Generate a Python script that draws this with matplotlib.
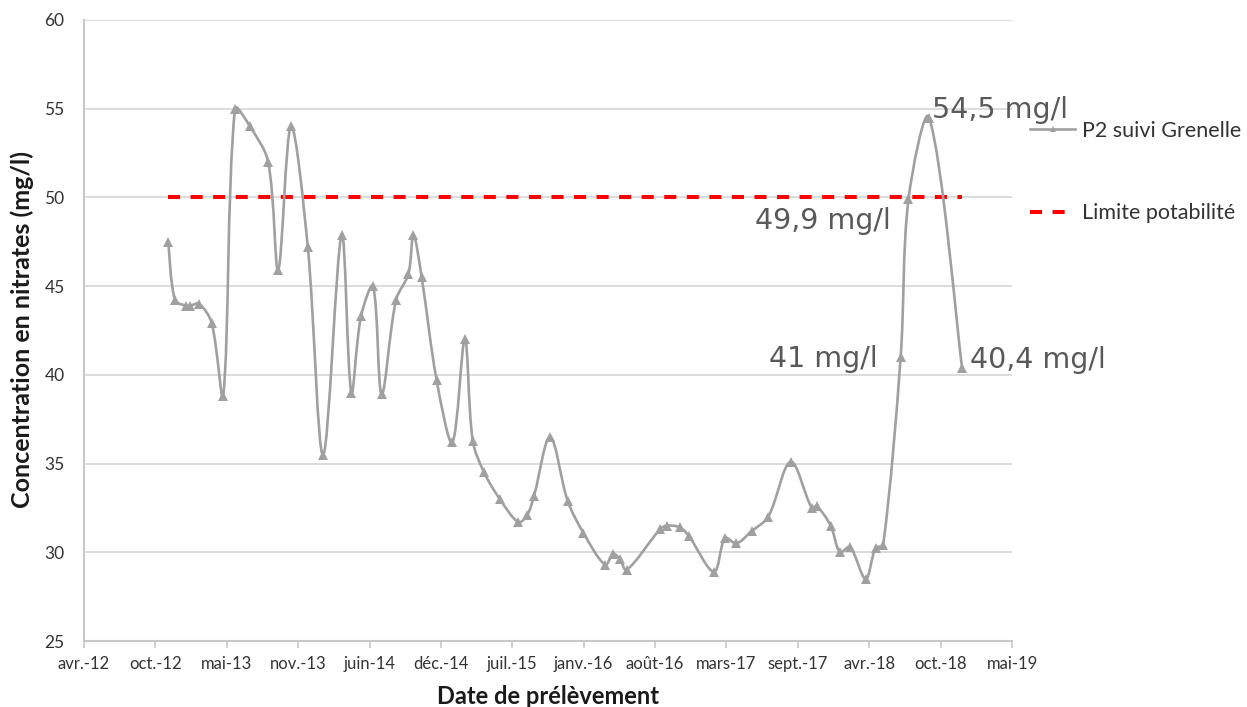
import numpy as np
import pandas as pd
import matplotlib
matplotlib.use("Agg")
import matplotlib.pyplot as plt
import matplotlib.dates as mdates
from matplotlib.path import Path
from matplotlib.patches import PathPatch
from matplotlib.lines import Line2D

# ---------------- data ----------------
dates = [
    "2012-11-23", "2012-12-12", "2013-01-12", "2013-01-23", "2013-02-18", "2013-03-25",
    "2013-04-26", "2013-05-29", "2013-07-10", "2013-08-30", "2013-09-27", "2013-11-02",
    "2013-12-19", "2014-01-31", "2014-03-24", "2014-04-20", "2014-05-17", "2014-06-20",
    "2014-07-14", "2014-08-23", "2014-09-27", "2014-10-11", "2014-11-03", "2014-12-15",
    "2015-01-28", "2015-03-04", "2015-03-26", "2015-04-27", "2015-06-10", "2015-08-01",
    "2015-08-26", "2015-09-14", "2015-10-29", "2015-12-17", "2016-01-30", "2016-03-31",
    "2016-04-23", "2016-05-12", "2016-05-30", "2016-09-01", "2016-09-20", "2016-10-27",
    "2016-11-21", "2017-01-30", "2017-03-02", "2017-04-03", "2017-05-16", "2017-07-01",
    "2017-09-02", "2017-10-31", "2017-11-14", "2017-12-23", "2018-01-18", "2018-02-15",
    "2018-03-31", "2018-04-28", "2018-05-19", "2018-07-07", "2018-07-29", "2018-09-25",
    "2018-12-26",
]
nitrates = [
    47.5, 44.2, 43.9, 43.9, 44.0, 42.9,
    38.8, 55.0, 54.0, 52.0, 45.9, 54.0,
    47.2, 35.5, 47.9, 39.0, 43.3, 45.0,
    38.9, 44.2, 45.7, 47.9, 45.5, 39.7,
    36.2, 42.0, 36.3, 34.5, 33.0, 31.7,
    32.1, 33.2, 36.5, 32.9, 31.1, 29.3,
    29.9, 29.6, 29.0, 31.3, 31.5, 31.4,
    30.9, 28.9, 30.8, 30.5, 31.2, 32.0,
    35.1, 32.5, 32.6, 31.5, 30.0, 30.3,
    28.5, 30.25, 30.4, 41.0, 49.9, 54.5,
    40.4,
]
limit_value = 50
series_name = "P2 suivi Grenelle"
limit_name = "Limite potabilité"

annot_index = [59, 58, 57, 60]
annot_text = ["54,5 mg/l", "49,9 mg/l", "41 mg/l", "40,4 mg/l"]

tick_start = "2012-04-01"
tick_step_days = 200
tick_labels = ["avr.-12", "oct.-12", "mai-13", "nov.-13", "juin-14", "déc.-14",
               "juil.-15", "janv.-16", "août-16", "mars-17", "sept.-17", "avr.-18",
               "oct.-18", "mai-19"]
y_ticks = [25, 30, 35, 40, 45, 50, 55, 60]

# ---------------- figure ----------------
W, H = 1247, 707
fig = plt.figure(figsize=(W / 100, H / 100), dpi=100)
ax = fig.add_axes([84 / W, 1 - 641 / H, 928 / W, 621 / H])

xs = mdates.date2num(pd.to_datetime(dates).to_pydatetime())
ys = np.array(nitrates, dtype=float)

tick_dates = pd.Timestamp(tick_start) + pd.to_timedelta(np.arange(len(tick_labels)) * tick_step_days, unit="D")
tick_nums = mdates.date2num(tick_dates.to_pydatetime())
ax.set_xlim(tick_nums[0], tick_nums[-1])
ax.set_ylim(25, 60)

# Excel-like smoothed line: cubic Bezier, tangents weighted by screen-space chord lengths
P = np.column_stack([xs, ys])
Pd = ax.transData.transform(P)
n = len(P)
d = np.hypot(*(np.diff(Pd, axis=0).T))
T = np.zeros_like(P)
T[0] = P[1] - P[0]
T[-1] = P[-1] - P[-2]
T[1:-1] = P[2:] - P[:-2]
verts = [P[0]]
codes = [Path.MOVETO]
for i in range(n - 1):
    dprev = d[i - 1] if i > 0 else d[i]
    dnext = d[i + 1] if i + 1 < n - 1 else d[i]
    c1 = P[i] + T[i] * d[i] / (dprev + d[i]) / 3.0
    c2 = P[i + 1] - T[i + 1] * d[i] / (d[i] + dnext) / 3.0
    verts += [c1, c2, P[i + 1]]
    codes += [Path.CURVE4] * 3
series_color = "#A0A0A0"
patch = PathPatch(Path(verts, codes), facecolor="none", edgecolor=series_color,
                  lw=1.9, zorder=4, capstyle="round", joinstyle="round")
ax.add_patch(patch)
ax.plot(xs, ys, linestyle="none", marker="^", markersize=6.5, color=series_color,
        markeredgewidth=0, zorder=5)

# limit line
ax.hlines(limit_value, xs[0], xs[-1], colors="#FF0000", linestyles=(0, (3, 2.6)),
          lw=2.9, zorder=3)

# annotations
offsets = {"54,5 mg/l": (3, 0, "left"), "49,9 mg/l": (-18, -30, "right"),
           "41 mg/l": (-23, -10, "right"), "40,4 mg/l": (8, 0, "left")}
for idx, txt in zip(annot_index, annot_text):
    dx, dy, ha = offsets[txt]
    ax.annotate(txt, (xs[idx], ys[idx]), xytext=(dx, dy), textcoords="offset pixels",
                ha=ha, va="baseline", fontsize=20.5, color="#595959",
                family="DejaVu Sans", zorder=6)

# axes formatting
ax.set_xticks(tick_nums)
ax.set_xticklabels(tick_labels, family="Lato", fontsize=12, color="#333333")
ax.set_yticks(y_ticks)
ax.set_yticklabels([str(v) for v in y_ticks], family="Lato", fontsize=12.5, color="#333333")

ax.grid(axis="y", color="#D9D9D9", lw=1.3, zorder=0)
ax.set_axisbelow(True)
for s in ["top", "right"]:
    ax.spines[s].set_visible(False)
for s in ["left", "bottom"]:
    ax.spines[s].set_color("#C8C8C8")
    ax.spines[s].set_linewidth(1.5)
ax.tick_params(axis="x", length=5, width=1.2, color="#C8C8C8", pad=6)
ax.tick_params(axis="y", length=0, pad=14)

fig.text(548 / W, 1 - 697 / H, "Date de prélèvement", ha="center", va="center",
         family="Lato", fontweight="bold", fontsize=17, color="#1a1a1a")
fig.text(22 / W, 1 - 329 / H, "Concentration en nitrates (mg/l)", ha="center", va="center",
         rotation=90, family="Lato", fontweight="bold", fontsize=18, color="#1a1a1a")

# legend
h1 = Line2D([], [], color=series_color, lw=1.9, marker="^", markersize=5, markeredgewidth=0)
h2 = Line2D([], [], color="#FF0000", lw=2.9, linestyle=(0, (3, 2.6)))
fig.legend([h1, h2], [series_name, limit_name], loc="center left",
           bbox_to_anchor=(1030 / W, 1 - 172 / H), bbox_transform=fig.transFigure,
           frameon=False, borderpad=0, borderaxespad=0, handlelength=2.1,
           handletextpad=0.3, labelspacing=2.9,
           prop={"family": "Lato", "size": 15.5}, labelcolor="#333333")

fig.savefig("out.png", dpi=100, facecolor="white")
